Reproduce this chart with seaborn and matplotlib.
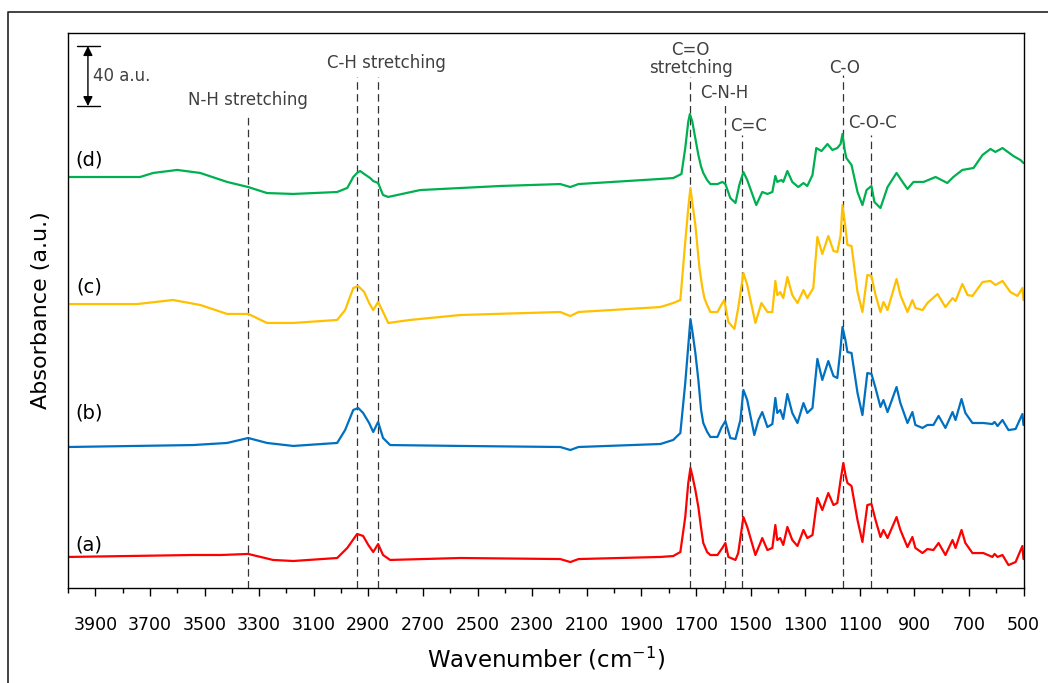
import numpy as np
import pandas as pd
import matplotlib
matplotlib.use("Agg")
import matplotlib.pyplot as plt
from matplotlib.lines import Line2D
from matplotlib.ticker import MultipleLocator
import seaborn as sns

# ---- FTIR spectra (wavenumber in cm-1, absorbance in a.u., stacked) ----
wn_a = [4000, 3542, 3440, 3340, 3249, 3175, 3014, 2977, 2941, 2919, 2900, 2882, 2864,
        2846, 2820, 2563, 2197, 2160, 2130, 1830, 1783, 1757, 1739, 1728, 1720, 1712,
        1702, 1691, 1681, 1673, 1659, 1647, 1621, 1603, 1592, 1581, 1555, 1545, 1526,
        1512, 1482, 1464, 1457, 1438, 1420, 1409, 1402, 1391, 1380, 1365, 1347, 1328,
        1306, 1292, 1273, 1255, 1237, 1215, 1196, 1182, 1170, 1160, 1152, 1145, 1130,
        1108, 1090, 1072, 1057, 1042, 1024, 1013, 998, 965, 951, 925, 907, 896, 870,
        852, 830, 811, 786, 760, 749, 727, 713, 687, 647, 614, 606, 595, 577, 555, 529,
        504, 500]
abs_a = [20.7, 22.0, 22.0, 22.7, 18.7, 18.0, 20.0, 26.7, 36.0, 34.7, 28.7, 24.0, 29.3,
         22.0, 18.7, 20.0, 19.3, 17.3, 19.3, 20.7, 21.3, 24.0, 47.3, 70.0, 80.0, 74.0,
         65.3, 54.0, 40.0, 30.0, 24.0, 22.0, 22.0, 26.7, 30.0, 20.7, 18.7, 23.3, 47.3,
         40.7, 22.0, 30.0, 33.3, 25.3, 26.7, 42.0, 32.0, 33.3, 28.7, 40.7, 32.0, 28.0,
         38.7, 33.3, 35.3, 60.0, 52.0, 63.3, 55.3, 56.7, 72.0, 83.3, 75.3, 70.0, 68.0,
         45.3, 30.7, 55.3, 56.0, 45.3, 34.0, 38.7, 33.3, 47.3, 38.7, 27.3, 34.0, 26.7,
         23.3, 26.0, 25.3, 30.0, 22.0, 32.0, 26.7, 38.7, 30.0, 23.3, 23.3, 20.7, 22.7,
         20.7, 22.0, 15.3, 17.3, 28.0, 19.3]

wn_b = [4000, 3542, 3417, 3340, 3271, 3175, 3014, 2985, 2955, 2937, 2919, 2897, 2882,
        2864, 2846, 2820, 2563, 2197, 2160, 2130, 1830, 1783, 1757, 1739, 1728, 1720,
        1712, 1702, 1691, 1681, 1673, 1659, 1647, 1621, 1607, 1592, 1574, 1555, 1537,
        1526, 1512, 1486, 1471, 1457, 1438, 1420, 1409, 1402, 1391, 1380, 1365, 1347,
        1328, 1306, 1292, 1273, 1255, 1237, 1215, 1196, 1182, 1170, 1163, 1152, 1145,
        1130, 1108, 1090, 1072, 1057, 1042, 1024, 1013, 998, 965, 951, 925, 907, 896,
        870, 852, 830, 811, 786, 760, 749, 727, 713, 687, 647, 614, 606, 595, 577, 555,
        529, 504, 500]
abs_b = [94.0, 95.3, 96.7, 100.0, 96.7, 94.7, 96.7, 105.3, 118.7, 120.0, 116.7, 110.0,
         104.0, 110.7, 100.0, 95.3, 94.7, 94.0, 92.0, 94.0, 96.0, 98.7, 103.3, 136.7,
         161.3, 179.3, 170.0, 156.7, 138.7, 118.7, 110.0, 104.2, 100.7, 100.7, 106.7,
         111.3, 100.0, 99.3, 112.0, 132.0, 125.3, 102.0, 112.0, 117.3, 107.3, 109.3,
         126.7, 116.7, 118.7, 112.7, 129.3, 116.7, 110.0, 123.3, 116.7, 120.0, 152.7,
         138.7, 151.3, 141.3, 140.0, 160.0, 174.0, 165.0, 157.3, 156.7, 130.0, 115.3,
         143.3, 142.7, 133.3, 120.7, 125.3, 117.3, 134.0, 123.3, 110.0, 117.3, 108.7,
         106.7, 108.7, 108.7, 114.7, 106.7, 117.3, 112.0, 126.0, 116.7, 110.0, 110.0,
         109.3, 110.7, 108.0, 112.0, 105.3, 106.0, 116.0, 108.7]

wn_c = [4000, 3747, 3615, 3516, 3417, 3340, 3271, 3175, 3014, 2985, 2955, 2937, 2915,
        2897, 2882, 2864, 2846, 2827, 2747, 2563, 2197, 2160, 2130, 1830, 1783, 1757,
        1739, 1728, 1720, 1712, 1702, 1687, 1677, 1669, 1659, 1647, 1621, 1607, 1596,
        1581, 1559, 1545, 1526, 1512, 1482, 1460, 1438, 1420, 1409, 1402, 1391, 1380,
        1365, 1347, 1328, 1306, 1292, 1270, 1255, 1237, 1215, 1196, 1182, 1170, 1163,
        1152, 1145, 1130, 1108, 1090, 1072, 1057, 1042, 1024, 1013, 998, 965, 951, 925,
        907, 896, 870, 852, 815, 786, 760, 749, 724, 705, 687, 650, 621, 603, 577, 548,
        522, 504, 500]
abs_c = [189.3, 189.3, 192.0, 188.7, 182.7, 182.7, 176.7, 176.7, 178.7, 185.3, 200.0,
         201.3, 197.3, 190.0, 185.3, 190.7, 184.0, 176.7, 178.7, 182.0, 184.0, 181.3,
         184.0, 187.3, 190.0, 192.0, 230.7, 253.3, 266.7, 255.3, 242.0, 213.3, 200.9,
         193.3, 188.7, 184.0, 184.0, 188.7, 192.0, 177.3, 172.7, 186.7, 210.0, 202.0,
         176.7, 190.0, 184.0, 184.0, 204.7, 195.3, 197.3, 193.3, 207.3, 195.3, 190.0,
         198.7, 193.3, 200.0, 234.0, 222.7, 234.7, 224.7, 224.0, 235.0, 255.3, 240.0,
         228.7, 228.0, 197.3, 184.0, 208.7, 208.0, 195.3, 184.0, 190.7, 185.3, 206.0,
         195.3, 184.0, 192.0, 186.7, 185.3, 190.0, 196.0, 187.3, 193.3, 191.3, 202.7,
         195.3, 194.7, 204.0, 204.7, 202.0, 204.7, 197.3, 194.7, 200.0, 192.0]

wn_d = [4000, 3736, 3688, 3600, 3516, 3417, 3340, 3271, 3175, 3014, 2977, 2955, 2941,
        2930, 2915, 2893, 2882, 2864, 2846, 2827, 2710, 2417, 2197, 2160, 2130, 1830,
        1783, 1753, 1739, 1728, 1722, 1713, 1709, 1691, 1681, 1673, 1659, 1647, 1621,
        1603, 1592, 1574, 1555, 1541, 1526, 1512, 1479, 1457, 1438, 1420, 1409, 1402,
        1387, 1380, 1365, 1347, 1325, 1306, 1292, 1273, 1259, 1240, 1218, 1200, 1182,
        1170, 1163, 1155, 1149, 1130, 1108, 1090, 1075, 1057, 1046, 1024, 998, 965, 943,
        925, 903, 866, 822, 779, 757, 724, 683, 650, 621, 603, 577, 537, 511, 500]
abs_d = [274.0, 274.0, 276.7, 278.7, 276.7, 270.7, 267.3, 263.3, 262.7, 264.0, 266.7,
         274.0, 276.7, 278.0, 276.0, 273.3, 271.3, 270.0, 262.0, 260.7, 265.3, 268.0,
         269.3, 267.3, 269.3, 272.7, 273.3, 276.0, 293.3, 310.9, 316.0, 310.9, 306.7,
         288.7, 280.9, 276.7, 272.0, 269.3, 269.3, 270.7, 269.3, 260.0, 256.7, 268.7,
         277.3, 272.0, 255.3, 264.0, 262.7, 264.0, 274.7, 270.7, 272.0, 270.7, 278.0,
         270.7, 267.3, 270.0, 268.0, 275.3, 293.3, 291.3, 296.0, 292.0, 293.3, 296.0,
         302.7, 292.0, 286.7, 282.0, 264.0, 255.3, 265.3, 268.0, 257.3, 253.3, 267.3,
         276.7, 270.7, 266.0, 270.7, 270.7, 274.0, 270.0, 274.0, 278.7, 280.0, 288.7,
         292.7, 290.7, 293.3, 288.0, 285.3, 283.3]

samples = ["(a)", "(b)", "(c)", "(d)"]
sample_colors = ["#FF0000", "#0070C0", "#FFC000", "#00B050"]
label_y = [28.7, 116.7, 200.7, 285.3]

# band assignments: guide line position/top, label text and its position
band_names = ["N-H stretching", "C-H stretching", None, "C=O\nstretching",
              "C-N-H", "C=C", "C-O", "C-O-C"]
band_wn = [3340, 2940, 2865, 1720, 1595, 1530, 1160, 1060]
band_top = [316.7, 340.7, 340.7, 340.7, 324.0, 302.0, 342.0, 302.0]
band_label_x = [3340, 2834, None, 1720, 1595, 1508, 1156, 1053]
band_label_y = [325.3, 350.0, None, 352.7, 330.0, 308.0, 346.7, 310.0]

xticks_major = list(range(3900, 400, -200))
scale_bar = 40  # a.u.

# ---- build long-form table ----
frames = []
for name, wn, ab in zip(samples, [wn_a, wn_b, wn_c, wn_d], [abs_a, abs_b, abs_c, abs_d]):
    frames.append(pd.DataFrame({"Wavenumber": wn, "Absorbance": ab, "Sample": name}))
df = pd.concat(frames, ignore_index=True)

sns.set_theme(style="ticks")
plt.rcParams["font.family"] = ["DejaVu Sans"]
plt.rcParams["text.color"] = "black"
plt.rcParams["axes.labelcolor"] = "black"
plt.rcParams["xtick.color"] = "black"

fig = plt.figure(figsize=(10.48, 6.83), dpi=100)
ax = fig.add_axes([68 / 1048, 1 - 588 / 683, (1023.5 - 68) / 1048, (588 - 33) / 683])

sns.lineplot(data=df, x="Wavenumber", y="Absorbance", hue="Sample",
             palette=dict(zip(samples, sample_colors)), estimator=None,
             linewidth=1.6, legend=False, ax=ax)
for ln in ax.lines:
    ln.set_solid_joinstyle("round")
    ln.set_solid_capstyle("round")

ax.set_xlim(4000, 500)
ax.set_ylim(0, (588 - 33) / 1.5)

# guide lines for band assignments
for wn, top in zip(band_wn, band_top):
    ax.plot([wn, wn], [0, top], color="#333333", lw=0.9, dashes=(6, 3.5), zorder=1)

for name, lx, ly in zip(band_names, band_label_x, band_label_y):
    if name is None:
        continue
    ax.text(lx, ly, name, ha="center", va="center", fontsize=12, color="#404040",
            linespacing=1.05)

for name, y in zip(samples, label_y):
    ax.text(3923, y, name, ha="center", va="center", fontsize=14, color="black")

# vertical scale bar
bar_x, bar_top = 3927, 361.3
ax.annotate("", xy=(bar_x, bar_top - scale_bar), xytext=(bar_x, bar_top),
            arrowprops=dict(arrowstyle="<|-|>", color="black", lw=1.0,
                            shrinkA=0, shrinkB=0, mutation_scale=14))
for yy in (bar_top, bar_top - scale_bar):
    ax.plot([3967, 3883], [yy, yy], color="black", lw=1.0)
ax.text(3908, bar_top - scale_bar / 2, f"{scale_bar} a.u.", ha="left", va="center",
        fontsize=12, color="#404040")

# axes styling
ax.set_yticks([])
ax.xaxis.set_major_locator(plt.FixedLocator(xticks_major))
ax.xaxis.set_minor_locator(MultipleLocator(100))
ax.tick_params(axis="x", which="major", direction="out", length=6, width=1.0,
               labelsize=12.5, pad=14, colors="black")
ax.tick_params(axis="x", which="minor", direction="out", length=3.5, width=1.0,
               colors="black")
for s in ax.spines.values():
    s.set_visible(True)
    s.set_color("black")
    s.set_linewidth(1.0)

ax.set_xlabel("Wavenumber (cm$^{-1}$)", fontsize=16.5, labelpad=8, color="black")
ax.set_ylabel("Absorbance (a.u.)", fontsize=16, labelpad=12, color="black")

# outer frame of the figure panel
fig.add_artist(Line2D([8 / 1048, 8 / 1048, 1.0], [0.0, 1 - 12 / 683, 1 - 12 / 683],
                      transform=fig.transFigure, color="#222222", lw=1.2))

fig.savefig("out.png", dpi=100)
